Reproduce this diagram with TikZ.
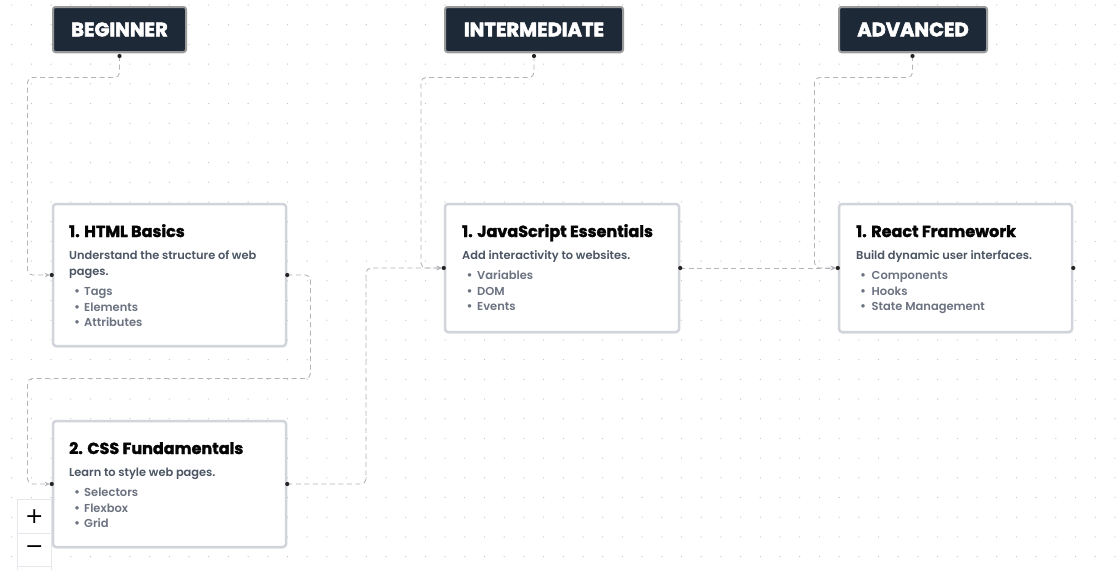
\documentclass[tikz,border=0pt]{standalone}
\usepackage{fontspec}
\setmainfont{Poppins}
\newfontfamily\pmed{Poppins SemiBold}
\newfontfamily\pttl{Poppins}[BoldFeatures={FakeBold=1.8}]
\newfontfamily\pblk{Poppins}[BoldFeatures={FakeBold=2.8}]
\newfontfamily\djv{DejaVu Sans}
\usetikzlibrary{arrows.meta,shadows,calc}
\definecolor{hdrfill}{HTML}{1E2937}
\definecolor{hdrborder}{HTML}{9A9A9A}
\definecolor{cardborder}{HTML}{D1D5DB}
\definecolor{linkc}{HTML}{B4B4BA}
\definecolor{gridc}{HTML}{C4C4C4}
\definecolor{titlec}{HTML}{050505}
\definecolor{descc}{HTML}{4B5563}
\definecolor{bulc}{HTML}{6B7280}
\definecolor{ctrlb}{HTML}{E5E7EB}
\tikzset{
  hdr/.style={draw=hdrborder, line width=2pt, fill=hdrfill, rounded corners=2.5pt, inner sep=0pt,
    minimum height=45pt, text=white, font=\pblk\fontsize{19.5}{22}\selectfont\bfseries,
    drop shadow={shadow xshift=0pt, shadow yshift=-1.5pt, opacity=0.25}},
  card/.style={draw=cardborder, line width=2.5pt, fill=white, rounded corners=3pt, inner sep=0pt,
    anchor=north west, drop shadow={shadow xshift=0pt, shadow yshift=-1.5pt, opacity=0.15}},
  link/.style={draw=linkc, line width=0.9pt, dash pattern=on 5pt off 3.5pt, rounded corners=5pt},
  tip/.style={-{Stealth[length=5pt,width=4.5pt,fill=linkc]}, shorten >=2pt},
  hdot/.style={circle, fill=black!85, draw=none, inner sep=0pt, minimum size=4.2pt},
  ttl/.style={anchor=base west, inner sep=0pt, text=titlec, font=\pttl\fontsize{16}{19}\selectfont\bfseries},
  dsc/.style={anchor=base west, inner sep=0pt, text=descc, font=\pmed\fontsize{11.4}{14}\selectfont},
  bul/.style={anchor=base west, inner sep=0pt, text=bulc, font=\pmed\fontsize{11.5}{14}\selectfont},
  bdot/.style={anchor=base, inner sep=0pt, text=bulc, font=\pmed\fontsize{12.5}{14}\selectfont},
}
\begin{document}
\begin{tikzpicture}[x=1pt,y=-1pt]
\useasboundingbox (0,0) rectangle (1120,570);
\fill[white] (0,0) rectangle (1120,570);
% dot grid
\foreach \i in {0,...,56}{
  \foreach \j in {0,...,28}{
    \fill[gridc] (11.7+19.7*\i, 5+19.7*\j) circle (0.65pt);
  }
}
% zoom controls
\begin{scope}
\clip (0,0) rectangle (1120,570);
\filldraw[draw=ctrlb, fill=white, line width=0.8pt] (17.5,499.5) rectangle (51,580);
\draw[ctrlb, line width=0.8pt] (17.5,533.3) -- (51,533.3);
\draw[ctrlb, line width=0.8pt] (17.5,566.7) -- (51,566.7);
\end{scope}
\node[inner sep=0pt, font=\djv\fontsize{22}{22}\selectfont] (zin) at (34.3,516.5) {+};
\node[inner sep=0pt, font=\djv\fontsize{22}{22}\selectfont] (zout) at (34.3,549.5) {−};

% headers
\node[hdr, minimum width=133pt] (hb) at (119.5,29.5) {BEGINNER};
\node[hdr, minimum width=178pt] (hi) at (534,29.5) {INTERMEDIATE};
\node[hdr, minimum width=148pt] (ha) at (913,29.5) {ADVANCED};
\coordinate (hbd) at (119.5,56);
\coordinate (hid) at (534,56);
\coordinate (had) at (912.5,56);

% cards
\node[card, minimum width=233pt, minimum height=142pt] (html) at (51.75,202.75) {};
\node[card, minimum width=233pt, minimum height=126pt] (css) at (51.75,419.75) {};
\node[card, minimum width=234pt, minimum height=128pt] (js) at (443.75,202.75) {};
\node[card, minimum width=233pt, minimum height=128pt] (react) at (837.75,202.75) {};

% card texts
\node[ttl] (t1) at (69,237) {1. HTML Basics};
\node[dsc] (d1a) at (69,259) {Understand the structure of web};
\node[dsc] (d1b) at (69,275) {pages.};
\foreach \y/\t [count=\k] in {295.5/Tags,311/Elements,326.5/Attributes}{
  \node[bdot] (b1\k) at (77,\y) {\textbullet};
  \node[bul] (l1\k) at (84,\y) {\t};
}
\node[ttl] (t2) at (69,454) {2. CSS Fundamentals};
\node[dsc] (d2) at (69,476) {Learn to style web pages.};
\foreach \y/\t [count=\k] in {496/Selectors,512/Flexbox,527.5/Grid}{
  \node[bdot] (b2\k) at (77,\y) {\textbullet};
  \node[bul] (l2\k) at (84,\y) {\t};
}
\node[ttl] (t3) at (462,237) {1. JavaScript Essentials};
\node[dsc] (d3) at (462,259) {Add interactivity to websites.};
\foreach \y/\t [count=\k] in {279/Variables,295/DOM,310.5/Events}{
  \node[bdot] (b3\k) at (469.5,\y) {\textbullet};
  \node[bul] (l3\k) at (477,\y) {\t};
}
\node[ttl] (t4) at (856,237) {1. React Framework};
\node[dsc] (d4) at (856,259) {Build dynamic user interfaces.};
\foreach \y/\t [count=\k] in {279/Components,295/Hooks,310.5/State Management}{
  \node[bdot] (b4\k) at (863,\y) {\textbullet};
  \node[bul] (l4\k) at (871.5,\y) {\t};
}

% bend coordinates
\coordinate (k1) at (27.5,77.5);
\coordinate (k2) at (310.5,378.5);
\coordinate (k3) at (27.5,378.5);
\coordinate (k4) at (366,268);
\coordinate (k5) at (421,77.5);
\coordinate (k6) at (814.5,77.5);

% connectors
\draw[link,tip] (hbd) |- (k1) |- (html.west);
\draw[link,tip] (html.east) -| (k2) -- (k3) |- (css.west);
\draw[link,tip] (css.east) -| (k4) -- (js.west);
\draw[link,tip] (hid) |- (k5) |- (js.west);
\draw[link,tip] (js.east) -- (react.west);
\draw[link,tip] (had) |- (k6) |- (react.west);

% handle dots
\foreach \p in {hbd,hid,had}{ \node[hdot] at (\p) {}; }
\foreach \n in {html,css,js,react}{
  \node[hdot] at (\n.west) {};
  \node[hdot] at (\n.east) {};
}
\end{tikzpicture}
\end{document}
